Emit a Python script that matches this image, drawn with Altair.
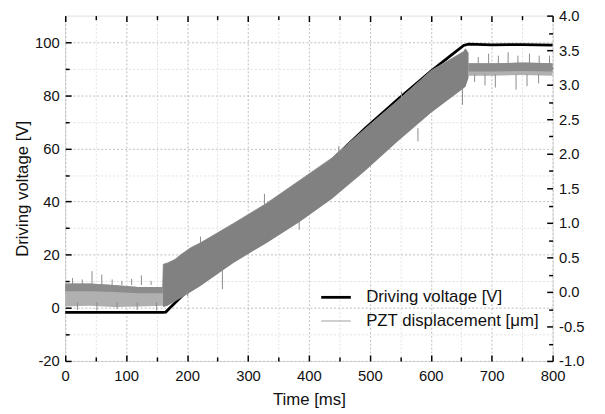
import altair as alt
import pandas as pd

F = "Liberation Sans"
series = ["Driving voltage [V]", "PZT displacement [\u03bcm]"]

# Driving voltage (left axis, V)
t_volt = [0, 160, 165, 172, 180, 200, 300, 400, 492, 546, 600, 630, 654, 662, 700, 750, 800]
v_volt = [-1.7, -1.7, -1.6, 0.0, 1.8, 6.3, 27.5, 47.5, 67.5, 78.5, 89.0, 94.5, 98.8, 99.3, 99.0, 99.1, 98.9]

# PZT displacement envelope (right axis, um)
flat1_t = [0, 40, 80, 120, 160]
flat1_lo = [-0.21, -0.20, -0.22, -0.21, -0.20]
flat1_hi = [0.12, 0.12, 0.10, 0.07, 0.07]
flat1_core = [0.01, 0.01, 0.00, -0.02, -0.02]

ramp_t = [160, 161, 168, 180, 190, 206, 222, 276, 330, 384, 438, 492, 546, 600, 654, 657, 662]
ramp_hi = [0.07, 0.40, 0.42, 0.47, 0.54, 0.64, 0.71, 0.99, 1.28, 1.61, 1.94, 2.36, 2.77, 3.20, 3.48, 3.52, 3.45]
ramp_lo = [-0.20, -0.22, -0.20, -0.14, -0.09, 0.00, 0.085, 0.42, 0.705, 1.01, 1.35, 1.75, 2.18, 2.59, 2.95, 2.97, 3.10]

flat2_t = [662, 700, 750, 800]
flat2_lo = [3.13, 3.13, 3.14, 3.13]
flat2_hi = [3.31, 3.31, 3.32, 3.31]
flat2_core = [3.19, 3.19, 3.20, 3.19]

spike_t = [12, 28, 44, 60, 77, 93, 109, 125, 141,
           20, 52, 85, 118, 150,
           222, 327, 449, 552,
           201, 258, 384, 579, 652,
           678, 695, 711, 727, 743, 762, 778, 795,
           672, 689, 706, 740, 758, 777]
spike_base = ([0.10] * 9 + [-0.15] * 5 +
              [0.70, 1.27, 1.98, 2.76] +
              [0.02, 0.31, 1.02, 2.37, 2.95] +
              [3.30] * 8 + [3.15] * 6)
spike_tip = [0.20, 0.18, 0.30, 0.25, 0.18, 0.16, 0.19, 0.24, 0.16,
             -0.26, -0.27, -0.25, -0.26, -0.27,
             0.80, 1.42, 2.11, 2.90,
             -0.06, 0.04, 0.90, 2.18, 2.71,
             3.40, 3.45, 3.42, 3.47, 3.42, 3.45, 3.42, 3.42,
             3.04, 2.99, 2.96, 2.93, 2.98, 3.02]

x_major = [0, 100, 200, 300, 400, 500, 600, 700, 800]
x_minor = [50, 150, 250, 350, 450, 550, 650, 750]
yl_major = [-20, 0, 20, 40, 60, 80, 100]
yl_minor = [-10, 10, 30, 50, 70, 90]
yr_major = [-1.0, -0.5, 0.0, 0.5, 1.0, 1.5, 2.0, 2.5, 3.0, 3.5, 4.0]
yr_minor = [-0.75, -0.25, 0.25, 0.75, 1.25, 1.75, 2.25, 2.75, 3.25, 3.75]

volt_df = pd.DataFrame({"t": t_volt, "v": v_volt, "series": series[0]})
pzt_line_df = pd.DataFrame({"t": ramp_t, "r": ramp_hi, "series": series[1]})
flat1_df = pd.DataFrame({"t": flat1_t, "lo": flat1_lo, "hi": flat1_hi, "core": flat1_core})
ramp_df = pd.DataFrame({"t": ramp_t, "lo": ramp_lo, "hi": ramp_hi})
flat2_df = pd.DataFrame({"t": flat2_t, "lo": flat2_lo, "hi": flat2_hi, "core": flat2_core})
spike_df = pd.DataFrame({"t": spike_t, "base": spike_base, "tip": spike_tip})

W, H = 494, 350
XS = alt.Scale(domain=[0, 800], nice=False, zero=False)
YL = alt.Scale(domain=[-20, 110], nice=False, zero=False)
YR = alt.Scale(domain=[-1, 4], nice=False, zero=False)

lab = dict(labelFont=F, labelFontSize=15, labelColor="#111111", labelFlush=False, labelOverlap=False)
ttl = dict(titleFont=F, titleFontSize=17, titleFontWeight="normal", titleColor="#111111")
GRID_MAJ = "#bdbdbd"
GRID_MIN = "#e2e2e2"


def tick_axis(orient, offset, values, size):
    return alt.Axis(orient=orient, offset=offset, values=values, labels=False, domain=False,
                    grid=False, ticks=True, tickColor="black", tickWidth=1.5, tickSize=size, title="")


def grid_axis(orient, values):
    return alt.Axis(orient=orient, values=values, labels=False, domain=False, ticks=False,
                    grid=True, gridColor=GRID_MIN, gridDash=[2, 2], gridWidth=1, title="")


x_main = alt.Axis(orient="bottom", values=x_major, ticks=False, domain=False, grid=True,
                  gridColor=GRID_MAJ, gridDash=[2, 2], gridWidth=1, labelPadding=8,
                  title="Time [ms]", titlePadding=8, **lab, **ttl)
yl_main = alt.Axis(orient="left", values=yl_major, ticks=False, domain=False, grid=True,
                   gridColor=GRID_MAJ, gridDash=[2, 2], gridWidth=1,
                   labelExpr="datum.value < 0 ? '-' + format(-datum.value, 'd') : format(datum.value, 'd')",
                   labelPadding=6, title="Driving voltage [V]", titlePadding=3, **lab, **ttl)
yr_main = alt.Axis(orient="right", values=yr_major, ticks=False, domain=False, grid=False,
                   labelExpr="datum.value < 0 ? '-' + format(-datum.value, '.1f') : format(datum.value, '.1f')",
                   labelPadding=6, title="", **lab)

leg = alt.Legend(orient="none", legendX=258, legendY=269, title=None, symbolType="stroke",
                 symbolSize=900, labelFont=F, labelFontSize=17, labelColor="#111111",
                 labelOffset=14, labelLimit=400, rowPadding=0, padding=0)
color = alt.Color("series:N", scale=alt.Scale(domain=series, range=["#000000", "#a0a0a0"]), legend=leg)
sw = alt.StrokeWidth("series:N", scale=alt.Scale(domain=series, range=[2.8, 1.0]), legend=leg)

# left-scale layers
volt = alt.Chart(volt_df).mark_line().encode(
    x=alt.X("t:Q", scale=XS, axis=x_main),
    y=alt.Y("v:Q", scale=YL, axis=yl_main),
    color=color, strokeWidth=sw,
)
dA = alt.Chart(volt_df).mark_line(opacity=0).encode(
    x=alt.X("t:Q", scale=XS, axis=grid_axis("bottom", x_minor)),
    y=alt.Y("v:Q", scale=YL, axis=tick_axis("right", -W, yl_major, 6)),
)
dB = alt.Chart(volt_df).mark_line(opacity=0).encode(
    x=alt.X("t:Q", scale=XS, axis=tick_axis("top", -H, x_major, 6)),
    y=alt.Y("v:Q", scale=YL, axis=tick_axis("right", -W, yl_minor, 4)),
)
dC = alt.Chart(volt_df).mark_line(opacity=0).encode(
    x=alt.X("t:Q", scale=XS, axis=tick_axis("top", -H, x_minor, 4)),
    y=alt.Y("v:Q", scale=YL, axis=grid_axis("left", yl_minor)),
)

# right-scale layers
pzt_line = alt.Chart(pzt_line_df).mark_line().encode(
    x=alt.X("t:Q", scale=XS, axis=tick_axis("bottom", -H, x_major, 6)),
    y=alt.Y("r:Q", scale=YR, axis=yr_main),
    color=color, strokeWidth=sw,
)
f1 = alt.Chart(flat1_df).mark_area(color="#b0b0b0").encode(
    x=alt.X("t:Q", scale=XS, axis=tick_axis("bottom", -H, x_minor, 4)),
    y=alt.Y("lo:Q", scale=YR, axis=tick_axis("left", -W, yr_major, 6)),
    y2="hi:Q")
f1c = alt.Chart(flat1_df).mark_area(color="#8c8c8c").encode(
    x=alt.X("t:Q", scale=XS, axis=None),
    y=alt.Y("core:Q", scale=YR, axis=tick_axis("left", -W, yr_minor, 4)),
    y2="hi:Q")
f2 = alt.Chart(flat2_df).mark_area(color="#b0b0b0").encode(
    x=alt.X("t:Q", scale=XS, axis=None), y=alt.Y("lo:Q", scale=YR, axis=None), y2="hi:Q")
f2c = alt.Chart(flat2_df).mark_area(color="#8c8c8c").encode(
    x=alt.X("t:Q", scale=XS, axis=None), y=alt.Y("core:Q", scale=YR, axis=None), y2="hi:Q")
ramp = alt.Chart(ramp_df).mark_area(color="#818181").encode(
    x=alt.X("t:Q", scale=XS, axis=None), y=alt.Y("lo:Q", scale=YR, axis=None), y2="hi:Q")
spikes = alt.Chart(spike_df).mark_rule(color="#8a8a8a", strokeWidth=1).encode(
    x=alt.X("t:Q", scale=XS, axis=None),
    y=alt.Y("base:Q", scale=YR, axis=None),
    y2="tip:Q",
)

chart = alt.layer(volt, dA, dB, dC, pzt_line, f1, f1c, f2, f2c, ramp, spikes).resolve_scale(
    y="independent"
).resolve_axis(x="independent", y="independent").properties(
    width=W, height=H,
    autosize=alt.AutoSizeParams(type="none"),
    padding={"left": 58, "top": 5, "right": 45, "bottom": 50},
).configure_view(stroke="black", strokeWidth=2).configure(background="white")

chart.save("out.html", embed_options={"renderer": "svg", "actions": False})
